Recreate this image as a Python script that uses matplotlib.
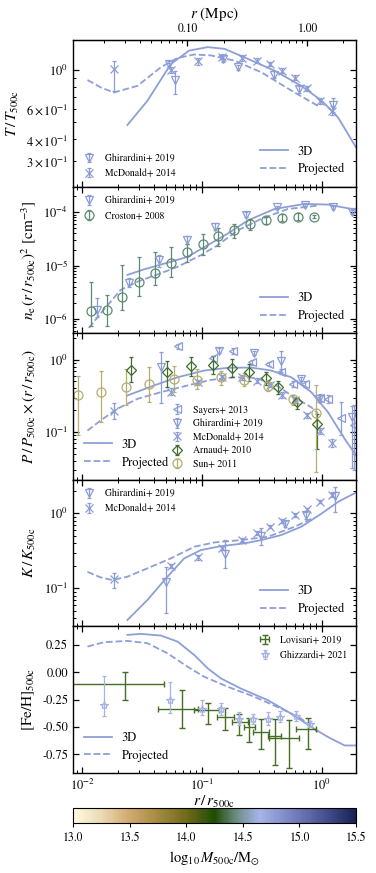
import numpy as np
import matplotlib
matplotlib.use('Agg')
import matplotlib.pyplot as plt
from matplotlib.colors import LinearSegmentedColormap, Normalize
from matplotlib.ticker import FormatStrFormatter, FixedLocator, NullFormatter

plt.rcParams['font.family'] = ['STIXGeneral', 'DejaVu Serif']
plt.rcParams['mathtext.fontset'] = 'stix'

# ---------------- data ----------------
R500_MPC = 1.32
mpc_ticks = [0.1, 1.0]

# temperature
T3d_x = [0.0239, 0.0351, 0.055, 0.0783, 0.1117, 0.154, 0.226, 0.403, 0.673, 1.0, 1.37, 1.98]
T3d_y = [0.483, 0.665, 1.08, 1.29, 1.35, 1.32, 1.18, 0.99, 0.81, 0.665, 0.532, 0.349]
Tpr_x = [0.0111, 0.0145, 0.0185, 0.029, 0.0454, 0.0626, 0.0863, 0.119, 0.186, 0.312, 0.592, 0.929]
Tpr_y = [0.875, 0.79, 0.742, 0.81, 1.035, 1.17, 1.225, 1.21, 1.13, 0.97, 0.742, 0.622]

ghir_T_x = [0.053, 0.060, 0.149, 0.199, 0.398, 0.64, 1.24]
ghir_T = [1.08, 0.875, 1.157, 1.035, 0.94, 0.776, 0.63]
ghir_T_lo = [1.03, 0.73, 1.11, 1.00, 0.90, 0.74, 0.57]
ghir_T_hi = [1.13, 0.99, 1.20, 1.07, 0.98, 0.81, 0.69]

mcd_x = [0.0185, 0.055, 0.093, 0.147, 0.217, 0.288, 0.369, 0.463, 0.592, 0.756, 0.965, 1.22]
mcd_T = [1.013, 1.00, 1.12, 1.19, 1.17, 1.13, 1.08, 0.99, 0.90, 0.787, 0.665, 0.58]
mcd_T_lo = [0.76, 0.96, 1.07, 1.15, 1.13, 1.09, 1.05, 0.96, 0.87, 0.76, 0.64, 0.55]
mcd_T_hi = [1.13, 1.04, 1.17, 1.23, 1.21, 1.17, 1.11, 1.02, 0.93, 0.81, 0.69, 0.62]

# density
ne3d_x = [0.0239, 0.0329, 0.055, 0.0759, 0.1117, 0.164, 0.241, 0.403, 0.718, 1.127, 1.98]
ne3d_y = [6.7e-6, 8.5e-6, 1.18e-5, 1.46e-5, 2.41e-5, 3.98e-5, 7.0e-5, 1.15e-4, 1.43e-4, 1.39e-4, 1.10e-4]
nepr_x = [0.0114, 0.0152, 0.021, 0.029, 0.0454, 0.0626, 0.098, 0.135, 0.199, 0.312, 0.521, 0.929]
nepr_y = [6.8e-7, 1.5e-6, 3.5e-6, 5.0e-6, 7.2e-6, 9.5e-6, 1.57e-5, 2.4e-5, 4.57e-5, 7.5e-5, 1.15e-4, 1.33e-4]

ghir_ne_x = [0.0134, 0.0247, 0.044, 0.075, 0.1285, 0.233, 0.425, 0.718, 1.24, 1.79]
ghir_ne = [1.5e-6, 4.7e-6, 1.3e-5, 3.06e-5, 5.4e-5, 9.06e-5, 1.24e-4, 1.39e-4, 1.24e-4, 1.0e-4]
ghir_ne_lo = [1.1e-6, 3.9e-6, 9.5e-6, 2.5e-5, 4.7e-5, 8.3e-5, 1.17e-4, 1.32e-4, 1.17e-4, 9.2e-5]
ghir_ne_hi = [2.5e-6, 5.8e-6, 1.6e-5, 3.6e-5, 6.2e-5, 9.9e-5, 1.31e-4, 1.46e-4, 1.31e-4, 1.08e-4]

cro_x = [0.0119, 0.0163, 0.0217, 0.0299, 0.0405, 0.055, 0.075, 0.1014, 0.137, 0.186, 0.252, 0.344, 0.467, 0.632, 0.861]
cro_ne = [1.4e-6, 1.5e-6, 2.6e-6, 5.0e-6, 7.4e-6, 1.13e-5, 1.8e-5, 2.5e-5, 3.55e-5, 4.57e-5, 5.9e-5, 7.0e-5, 7.8e-5, 8.3e-5, 8.3e-5]
cro_lo = [7.3e-7, 7.3e-7, 1.5e-6, 2.65e-6, 4.4e-6, 6.2e-6, 1.18e-5, 1.57e-5, 2.35e-5, 3.35e-5, 4.57e-5, 5.9e-5, 6.8e-5, 7.0e-5, 7.7e-5]
cro_hi = [5.0e-6, 2.84e-6, 1.03e-5, 1.42e-5, 1.81e-5, 2.24e-5, 2.58e-5, 3.85e-5, 5.1e-5, 6.1e-5, 7.5e-5, 8.3e-5, 9.4e-5, 9.6e-5, 8.9e-5]

# pressure
P3d_x = [0.0239, 0.0399, 0.0626, 0.1045, 0.164, 0.257, 0.378, 0.556, 0.817, 1.127, 1.55, 1.98]
P3d_y = [0.32, 0.44, 0.57, 0.706, 0.77, 0.776, 0.706, 0.57, 0.355, 0.188, 0.081, 0.045]
Ppr_x = [0.0111, 0.0143, 0.0197, 0.029, 0.0454, 0.0759, 0.119, 0.186, 0.274, 0.403, 0.592, 0.817, 0.929]
Ppr_y = [0.105, 0.145, 0.21, 0.288, 0.355, 0.44, 0.525, 0.57, 0.56, 0.46, 0.30, 0.22, 0.18]

say_x = [0.0634, 0.123, 0.181, 0.26, 0.366, 0.458, 0.574, 0.718, 0.96, 1.127, 1.455, 1.86]
say_P = [1.52, 1.04, 1.33, 0.92, 0.873, 0.684, 0.46, 0.46, 0.30, 0.288, 0.156, 0.124]
say_lo = [1.42, 0.96, 1.20, 0.85, 0.81, 0.63, 0.42, 0.42, 0.26, 0.25, 0.090, 0.030]
say_hi = [1.62, 1.12, 1.46, 0.99, 0.94, 0.74, 0.50, 0.50, 0.34, 0.33, 0.259, 0.233]

ghir_P_x = [0.0454, 0.14, 0.274, 0.458, 0.673, 0.94, 1.79]
ghir_P = [0.78, 1.33, 1.24, 0.97, 0.54, 0.29, 0.161]
ghir_P_lo = [0.25, 1.22, 1.15, 0.67, 0.50, 0.26, 0.032]
ghir_P_hi = [1.26, 1.44, 1.33, 1.33, 0.58, 0.32, 0.23]

mcd_P = [0.193, 0.363, 0.488, 0.57, 0.57, 0.514, 0.45, 0.327, 0.273, 0.17, 0.105, 0.071]
mcd_P_lo = [0.15, 0.32, 0.45, 0.53, 0.53, 0.48, 0.42, 0.30, 0.25, 0.155, 0.095, 0.062]
mcd_P_hi = [0.25, 0.41, 0.53, 0.61, 0.61, 0.55, 0.48, 0.355, 0.30, 0.185, 0.115, 0.080]

arn_x = [0.0258, 0.0516, 0.081, 0.123, 0.177, 0.249, 0.344, 0.435, 0.624, 0.916]
arn_P = [0.728, 0.668, 0.827, 0.845, 0.76, 0.684, 0.553, 0.416, 0.259, 0.130]
arn_lo = [0.488, 0.416, 0.60, 0.636, 0.57, 0.51, 0.44, 0.337, 0.21, 0.059]
arn_hi = [1.075, 0.97, 1.075, 1.135, 1.02, 0.87, 0.67, 0.51, 0.30, 0.18]

sun_x = [0.0092, 0.0145, 0.0231, 0.0362, 0.058, 0.0908, 0.144, 0.226, 0.359, 0.574, 0.90]
sun_P = [0.327, 0.363, 0.416, 0.463, 0.543, 0.531, 0.57, 0.531, 0.439, 0.282, 0.185]
sun_lo = [0.09, 0.137, 0.233, 0.259, 0.355, 0.395, 0.45, 0.43, 0.37, 0.24, 0.028]
sun_hi = [0.60, 0.706, 0.745, 0.784, 0.827, 0.745, 0.70, 0.65, 0.52, 0.33, 0.45]

# entropy
K3d_x = [0.0239, 0.0351, 0.0516, 0.0711, 0.098, 0.144, 0.226, 0.312, 0.458, 0.673, 1.0, 1.37, 1.98]
K3d_y = [0.0378, 0.07, 0.143, 0.251, 0.324, 0.366, 0.398, 0.44, 0.514, 0.663, 1.0, 1.43, 1.94]
Kpr_x = [0.0111, 0.0143, 0.0179, 0.0239, 0.0351, 0.055, 0.0863, 0.127, 0.211, 0.355, 0.592, 0.87]
Kpr_y = [0.166, 0.14, 0.129, 0.143, 0.185, 0.251, 0.359, 0.41, 0.44, 0.488, 0.663, 0.885]

ghir_K_x = [0.05, 0.157, 0.308, 0.495, 0.741, 1.28]
ghir_K = [0.122, 0.287, 0.498, 0.72, 0.948, 1.70]
ghir_K_lo = [0.047, 0.185, 0.378, 0.65, 0.85, 1.05]
ghir_K_hi = [0.19, 0.44, 0.63, 0.80, 1.05, 2.26]

mcd_K = [0.132, 0.198, 0.259, 0.341, 0.44, 0.551, 0.663, 0.796, 0.949, 1.13, 1.43, 1.75]
mcd_K_lo = [0.10, 0.185, 0.24, 0.32, 0.41, 0.52, 0.63, 0.75, 0.90, 1.07, 1.36, 1.65]
mcd_K_hi = [0.159, 0.212, 0.28, 0.36, 0.47, 0.58, 0.70, 0.84, 1.00, 1.19, 1.50, 1.85]

# metallicity
Fe3d_x = [0.0239, 0.0309, 0.0454, 0.0626, 0.0863, 0.1117, 0.144, 0.211, 0.355, 0.556, 0.817, 1.127, 1.55, 1.98]
Fe3d_y = [0.343, 0.352, 0.337, 0.282, 0.159, 0.037, -0.055, -0.147, -0.254, -0.377, -0.499, -0.591, -0.668, -0.668]
Fepr_x = [0.0111, 0.0152, 0.0239, 0.0351, 0.0516, 0.0759, 0.1045, 0.164, 0.274, 0.458, 0.673, 0.929]
Fepr_y = [0.236, 0.276, 0.288, 0.267, 0.175, 0.052, -0.040, -0.131, -0.223, -0.331, -0.423, -0.545]

lov_x = [0.0228, 0.068, 0.113, 0.157, 0.205, 0.249, 0.312, 0.403, 0.537, 0.762]
lov_xlo = [0.005, 0.043, 0.0863, 0.133, 0.177, 0.223, 0.265, 0.355, 0.366, 0.61]
lov_xhi = [0.0479, 0.093, 0.139, 0.184, 0.241, 0.278, 0.366, 0.458, 0.64, 0.90]
lov_Fe = [-0.110, -0.331, -0.346, -0.407, -0.453, -0.499, -0.545, -0.582, -0.597, -0.521]
lov_lo = [-0.248, -0.508, -0.469, -0.530, -0.576, -0.637, -0.699, -0.846, -0.876, -0.699]
lov_hi = [0.0, -0.163, -0.276, -0.325, -0.377, -0.416, -0.423, -0.423, -0.432, -0.416]

ghz_x = [0.0152, 0.0543, 0.1007, 0.144, 0.205, 0.265, 0.355, 0.444, 0.61, 0.80]
ghz_Fe = [-0.294, -0.254, -0.337, -0.337, -0.423, -0.423, -0.429, -0.407, -0.398, -0.469]
ghz_lo = [-0.398, -0.367, -0.385, -0.385, -0.478, -0.468, -0.485, -0.455, -0.442, -0.497]
ghz_hi = [-0.034, -0.091, -0.25, -0.28, -0.36, -0.38, -0.36, -0.355, -0.350, -0.44]

# colour bar
mass_min, mass_max = 13.0, 15.5
cbar_ticks = [13.0, 13.5, 14.0, 14.5, 15.0, 15.5]

# ---------------- styling ----------------
cmap = LinearSegmentedColormap.from_list('mass', [
    (0.0, '#fefbe3'), (0.1, '#ecd9b0'), (0.2, '#d1a870'), (0.3, '#a48a3f'),
    (0.4, '#6f6a1c'), (0.5, '#1f4d05'), (0.58, '#6e8f86'), (0.66, '#a7b5ea'),
    (0.8, '#6c77b4'), (0.9, '#424d8a'), (1.0, '#1a2152')])

c_model = '#8e9fd8'
c_blue = '#8b9cd6'
c_cro = '#5e8a72'
c_arn = '#3f6d2c'
c_sun = '#b6ad70'
c_lov = '#456e25'
c_ghz = '#a6b2e6'

fig = plt.figure(figsize=(3.76, 8.73), dpi=100)
gs = fig.add_gridspec(5, 1, left=0.194, right=0.947, top=0.954, bottom=0.1145, hspace=0)
axes = [fig.add_subplot(gs[i]) for i in range(5)]
for ax in axes[1:]:
    ax.sharex(axes[0])


def eb(ax, x, y, lo, hi, color, marker, label, ms=6):
    y = np.array(y)
    err = [y - np.array(lo), np.array(hi) - y]
    ax.errorbar(x, y, yerr=err, fmt=marker, color=color, mfc='none', mec=color,
                ms=ms, mew=0.9, elinewidth=0.9, capsize=1.5, capthick=0.9, label=label)


def models(ax, x1, y1, x2, y2, loc):
    l1, = ax.plot(x1, y1, color=c_model, lw=1.3)
    l2, = ax.plot(x2, y2, color=c_model, lw=1.3, ls='--')
    leg = ax.legend([l1, l2], ['3D', 'Projected'], loc=loc, frameon=False,
                    fontsize=9, handlelength=2.2, labelspacing=0.45)
    ax.add_artist(leg)


data_leg = dict(frameon=False, fontsize=7, handlelength=1.6)

# T
ax = axes[0]
models(ax, T3d_x, T3d_y, Tpr_x, Tpr_y, 'lower right')
eb(ax, ghir_T_x, ghir_T, ghir_T_lo, ghir_T_hi, c_blue, 'v', 'Ghirardini+ 2019')
eb(ax, mcd_x, mcd_T, mcd_T_lo, mcd_T_hi, c_blue, 'x', 'McDonald+ 2014')
ax.legend(loc='lower left', labelspacing=0.55, **data_leg)
ax.set_yscale('log')
ax.set_ylim(0.214, 1.48)
ax.set_ylabel(r'$T\,/\,T_{500\mathrm{c}}$', fontsize=11)

# ne
ax = axes[1]
models(ax, ne3d_x, ne3d_y, nepr_x, nepr_y, 'lower right')
eb(ax, ghir_ne_x, ghir_ne, ghir_ne_lo, ghir_ne_hi, c_blue, 'v', 'Ghirardini+ 2019')
eb(ax, cro_x, cro_ne, cro_lo, cro_hi, c_cro, 'o', 'Croston+ 2008', ms=6.5)
ax.legend(loc='upper left', labelspacing=0.55, **data_leg)
ax.set_yscale('log')
ax.set_ylim(5.4e-7, 3.0e-4)
ax.set_ylabel(r'$n_\mathrm{e}\,(r\,/\,r_{500\mathrm{c}})^2$ [cm$^{-3}$]', fontsize=11)

# P
ax = axes[2]
models(ax, P3d_x, P3d_y, Ppr_x, Ppr_y, 'lower left')
eb(ax, say_x, say_P, say_lo, say_hi, c_blue, '<', 'Sayers+ 2013')
eb(ax, ghir_P_x, ghir_P, ghir_P_lo, ghir_P_hi, c_blue, 'v', 'Ghirardini+ 2019')
eb(ax, mcd_x, mcd_P, mcd_P_lo, mcd_P_hi, c_blue, 'x', 'McDonald+ 2014')
eb(ax, arn_x, arn_P, arn_lo, arn_hi, c_arn, 'D', 'Arnaud+ 2010', ms=5.5)
eb(ax, sun_x, sun_P, sun_lo, sun_hi, c_sun, 'o', 'Sun+ 2011', ms=6.5)
ax.legend(loc='upper left', bbox_to_anchor=(0.328, 0.537), borderaxespad=0,
          labelspacing=0.4, **data_leg)
ax.set_yscale('log')
ax.set_ylim(0.022, 2.3)
ax.set_ylabel(r'$P\,/\,P_{500\mathrm{c}}\times(r\,/\,r_{500\mathrm{c}})$', fontsize=11)

# K
ax = axes[3]
models(ax, K3d_x, K3d_y, Kpr_x, Kpr_y, 'lower right')
eb(ax, ghir_K_x, ghir_K, ghir_K_lo, ghir_K_hi, c_blue, 'v', 'Ghirardini+ 2019')
eb(ax, mcd_x, mcd_K, mcd_K_lo, mcd_K_hi, c_blue, 'x', 'McDonald+ 2014')
ax.legend(loc='upper left', labelspacing=0.55, **data_leg)
ax.set_yscale('log')
ax.set_ylim(0.031, 2.8)
ax.set_ylabel(r'$K\,/\,K_{500\mathrm{c}}$', fontsize=11)

# Fe/H
ax = axes[4]
models(ax, Fe3d_x, Fe3d_y, Fepr_x, Fepr_y, 'lower left')
y = np.array(lov_Fe)
x = np.array(lov_x)
ax.errorbar(x, y, xerr=[x - np.array(lov_xlo), np.array(lov_xhi) - x],
            yerr=[y - np.array(lov_lo), np.array(lov_hi) - y], fmt='none',
            ecolor=c_lov, elinewidth=1.0, capsize=2, capthick=1.0, label='Lovisari+ 2019')
eb(ax, ghz_x, ghz_Fe, ghz_lo, ghz_hi, c_ghz, '*', 'Ghizzardi+ 2021', ms=6)
ax.legend(loc='upper right', labelspacing=0.55, **data_leg)
ax.set_ylim(-0.92, 0.42)
ax.set_yticks([0.25, 0.0, -0.25, -0.5, -0.75])
ax.yaxis.set_major_formatter(FormatStrFormatter('%.2f'))
ax.set_ylabel(r'$[\mathrm{Fe}/\mathrm{H}]_{500\mathrm{c}}$', fontsize=11)

for i, ax in enumerate(axes):
    ax.set_xscale('log')
    ax.tick_params(which='both', direction='in', right=True, top=(i > 0), labelsize=9)
    ax.tick_params(which='major', length=4.5, width=0.9)
    ax.tick_params(which='minor', length=2.5, width=0.7)
    for s in ax.spines.values():
        s.set_linewidth(1.0)
    if i < 4:
        ax.tick_params(labelbottom=False)
axes[0].set_xlim(0.0084, 1.93)
axes[4].set_xlabel(r'$r\,/\,r_{500\mathrm{c}}$', fontsize=11, labelpad=1)

# top axis in Mpc
sec = axes[0].secondary_xaxis('top', functions=(lambda r: r * R500_MPC, lambda r: r / R500_MPC))
sec.set_xscale('log')
sec.xaxis.set_major_locator(FixedLocator(mpc_ticks))
sec.xaxis.set_major_formatter(FormatStrFormatter('%.2f'))
sec.xaxis.set_minor_formatter(NullFormatter())
sec.tick_params(which='both', direction='in', labelsize=8.5)
sec.tick_params(which='major', length=4.5, width=0.9)
sec.tick_params(which='minor', length=2.5, width=0.7)
sec.set_xlabel(r'$r$ (Mpc)', fontsize=11)

# colour bar
cax = fig.add_axes([0.194, 0.0573, 0.753, 0.0172])
sm = plt.cm.ScalarMappable(norm=Normalize(mass_min, mass_max), cmap=cmap)
cb = fig.colorbar(sm, cax=cax, orientation='horizontal')
cb.set_ticks(cbar_ticks)
cb.ax.xaxis.set_major_formatter(FormatStrFormatter('%.1f'))
cb.ax.tick_params(labelsize=8.5, length=3)
cb.set_label(r'$\log_{10}M_{500\mathrm{c}}/\mathrm{M}_{\odot}$', fontsize=10.5)

fig.savefig('out.png', dpi=100)
